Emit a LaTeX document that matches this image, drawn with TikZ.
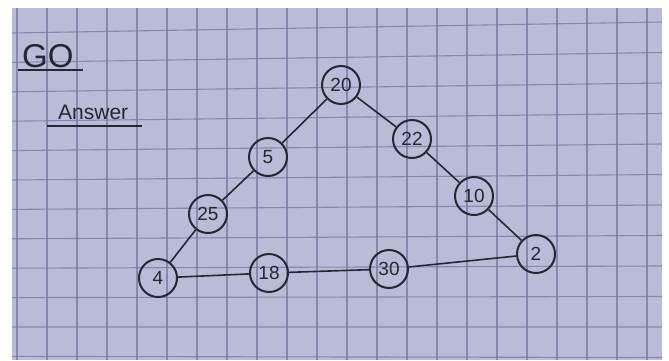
\documentclass[tikz,border=0pt]{standalone}
\usepackage{fontspec}
\setmainfont{Liberation Sans}
\definecolor{paper}{RGB}{186,187,215}
\definecolor{gridc}{RGB}{118,120,160}
\definecolor{ink}{RGB}{38,38,52}
\begin{document}
\begin{tikzpicture}[x=1pt,y=-1pt,
  num/.style={circle,draw=ink,line width=2pt,minimum size=38pt,inner sep=0pt,
    text=ink,font=\fontsize{19}{19}\selectfont},
  edge/.style={draw=ink,line width=1.6pt},
  gline/.style={draw=gridc,line width=1.1pt,opacity=0.75}]
\useasboundingbox (0,0) rectangle (669,360);
\fill[white] (0,0) rectangle (669,360);
\fill[paper] (12,8) rectangle (662,360);
% grid
\begin{scope}
\clip (12,8) rectangle (662,360);
\foreach \k in {0,...,21} {
  \draw[gline] ({17+30*\k},8) -- ({17+30*\k},360);
}
\foreach \k in {0,...,11} {
  \draw[gline] (12,{33+29.4*\k}) -- (662,{22+30.5*\k});
}
\end{scope}
% title texts
\node[text=ink,font=\fontsize{33}{33}\selectfont,anchor=south west,inner sep=0pt] (go) at (22,68) {GO};
\draw[ink,line width=2pt] (18,70) -- (83,70);
\node[text=ink,font=\fontsize{21}{21}\selectfont,anchor=south west,inner sep=0pt] (ans) at (58,120) {Answer};
\draw[ink,line width=2pt] (47,126) -- (142,126);
% nodes
\node[num] (n20) at (341,85) {20};
\node[num] (n22) at (412,139) {22};
\node[num] (n10) at (474,196) {10};
\node[num] (n2)  at (536,254) {2};
\node[num] (n30) at (389,269) {30};
\node[num] (n18) at (269,273) {18};
\node[num] (n4)  at (158,278) {4};
\node[num] (n25) at (208,214) {25};
\node[num] (n5)  at (268,157) {5};
% edges
\draw[edge] (n20) -- (n5);
\draw[edge] (n5) -- (n25);
\draw[edge] (n25) -- (n4);
\draw[edge] (n20) -- (n22);
\draw[edge] (n22) -- (n10);
\draw[edge] (n10) -- (n2);
\draw[edge] (n4) -- (n18);
\draw[edge] (n18) -- (n30);
\draw[edge] (n30) -- (n2);
\end{tikzpicture}
\end{document}
